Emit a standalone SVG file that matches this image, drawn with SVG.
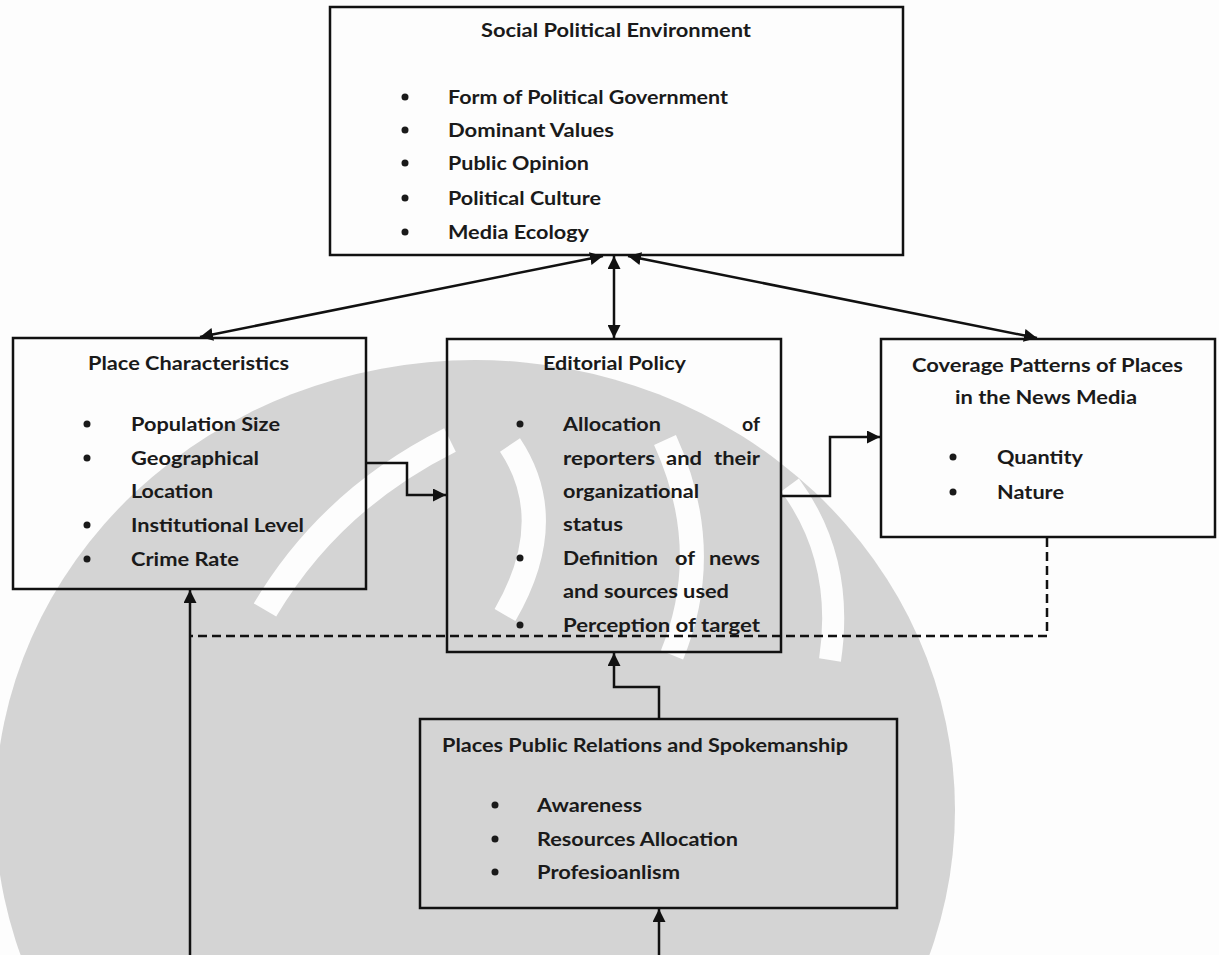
<svg xmlns="http://www.w3.org/2000/svg" width="1219" height="955" viewBox="0 0 1219 955">
  <style>
    .box { fill: none; stroke: #111; stroke-width: 2.5; }
    .t { font-family: Lato, "Liberation Sans", sans-serif; font-weight: 700; font-size: 19px; fill: #1a1a1a; }
    .dot { fill: #1a1a1a; }
    .ln { fill: none; stroke: #111; stroke-width: 2.5; }
    .dash { fill: none; stroke: #111; stroke-width: 2.5; stroke-dasharray: 9 5; }
    .wm { fill: #d4d4d4; }
    .wmw { fill: none; stroke: #fdfdfd; }
  </style>
  <defs>
    <marker id="ah" viewBox="0 0 12 12" refX="12" refY="6" markerWidth="13" markerHeight="13" markerUnits="userSpaceOnUse" orient="auto-start-reverse">
      <path d="M0,0 L12,6 L0,12 z" fill="#111"/>
    </marker>
  </defs>
  <rect width="1219" height="955" fill="#fdfdfd"/>

  <!-- faint emblem in the background -->
  <g id="emblem">
    <ellipse class="wm" cx="475" cy="810" rx="480" ry="450"/>
    <path class="wmw" stroke-width="26" d="M265,610 Q330,500 450,440"/>
    <path class="wmw" stroke-width="24" d="M510,445 Q560,520 505,615"/>
    <path class="wmw" stroke-width="24" d="M665,440 Q715,550 672,655"/>
    <path class="wmw" stroke-width="22" d="M790,485 Q845,560 830,660"/>
  </g>

  <g id="connectors">
    <line class="ln" x1="200" y1="337" x2="603" y2="256" marker-start="url(#ah)" marker-end="url(#ah)"/>
    <line class="ln" x1="628" y1="256" x2="1037" y2="338" marker-start="url(#ah)" marker-end="url(#ah)"/>
    <line class="ln" x1="614" y1="256" x2="614" y2="338" marker-start="url(#ah)" marker-end="url(#ah)"/>
    <path class="ln" d="M366,463 H407 V495 H446" marker-end="url(#ah)"/>
    <path class="ln" d="M781,496 H830 V437 H880" marker-end="url(#ah)"/>
    <path class="ln" d="M659,719 V687 H614 V653" marker-end="url(#ah)"/>
    <path class="ln" d="M659,955 V909" marker-end="url(#ah)"/>
    <path class="ln" d="M190,955 V590" marker-end="url(#ah)"/>
    <path class="dash" d="M1047,538 V636 H190"/>
  </g>

  <g id="social-political-environment">
    <rect class="box" x="330" y="7" width="573" height="248"/>
    <text class="t" x="481" y="37" textLength="270" lengthAdjust="spacingAndGlyphs">Social Political Environment</text>
    <circle class="dot" cx="405" cy="97" r="3.5"/>
    <circle class="dot" cx="405" cy="130" r="3.5"/>
    <circle class="dot" cx="405" cy="163" r="3.5"/>
    <circle class="dot" cx="405" cy="198" r="3.5"/>
    <circle class="dot" cx="405" cy="232" r="3.5"/>
    <text class="t" x="448" y="104" textLength="280" lengthAdjust="spacingAndGlyphs">Form of Political Government</text>
    <text class="t" x="448" y="137" textLength="166" lengthAdjust="spacingAndGlyphs">Dominant Values</text>
    <text class="t" x="448" y="170" textLength="141" lengthAdjust="spacingAndGlyphs">Public Opinion</text>
    <text class="t" x="448" y="205" textLength="153" lengthAdjust="spacingAndGlyphs">Political Culture</text>
    <text class="t" x="448" y="239" textLength="141" lengthAdjust="spacingAndGlyphs">Media Ecology</text>
  </g>

  <g id="place-characteristics">
    <rect class="box" x="13" y="338" width="353" height="251"/>
    <text class="t" x="88" y="370" textLength="201" lengthAdjust="spacingAndGlyphs">Place Characteristics</text>
    <circle class="dot" cx="87" cy="424" r="3.5"/>
    <circle class="dot" cx="87" cy="458" r="3.5"/>
    <circle class="dot" cx="87" cy="525" r="3.5"/>
    <circle class="dot" cx="87" cy="559" r="3.5"/>
    <text class="t" x="131" y="431" textLength="149" lengthAdjust="spacingAndGlyphs">Population Size</text>
    <text class="t" x="131" y="465" textLength="128" lengthAdjust="spacingAndGlyphs">Geographical</text>
    <text class="t" x="131" y="498" textLength="82" lengthAdjust="spacingAndGlyphs">Location</text>
    <text class="t" x="131" y="532" textLength="173" lengthAdjust="spacingAndGlyphs">Institutional Level</text>
    <text class="t" x="131" y="566" textLength="108" lengthAdjust="spacingAndGlyphs">Crime Rate</text>
  </g>

  <g id="editorial-policy">
    <rect class="box" x="447" y="339" width="334" height="313"/>
    <text class="t" x="543" y="370" textLength="143" lengthAdjust="spacingAndGlyphs">Editorial Policy</text>
    <circle class="dot" cx="520" cy="424" r="3.5"/>
    <circle class="dot" cx="520" cy="558" r="3.5"/>
    <circle class="dot" cx="520" cy="625" r="3.5"/>
    <text class="t" x="563" y="431" textLength="98" lengthAdjust="spacingAndGlyphs">Allocation</text>
    <text class="t" x="742" y="431" textLength="18" lengthAdjust="spacingAndGlyphs">of</text>
    <text class="t" x="563" y="465" textLength="92" lengthAdjust="spacingAndGlyphs">reporters</text>
    <text class="t" x="666" y="465" textLength="36" lengthAdjust="spacingAndGlyphs">and</text>
    <text class="t" x="714" y="465" textLength="46" lengthAdjust="spacingAndGlyphs">their</text>
    <text class="t" x="563" y="498" textLength="136" lengthAdjust="spacingAndGlyphs">organizational</text>
    <text class="t" x="563" y="531" textLength="60" lengthAdjust="spacingAndGlyphs">status</text>
    <text class="t" x="563" y="565" textLength="95" lengthAdjust="spacingAndGlyphs">Definition</text>
    <text class="t" x="675" y="565" textLength="20" lengthAdjust="spacingAndGlyphs">of</text>
    <text class="t" x="709" y="565" textLength="51" lengthAdjust="spacingAndGlyphs">news</text>
    <text class="t" x="563" y="598" textLength="166" lengthAdjust="spacingAndGlyphs">and sources used</text>
    <text class="t" x="563" y="632" textLength="197" lengthAdjust="spacingAndGlyphs">Perception of target</text>
  </g>

  <g id="coverage-patterns">
    <rect class="box" x="881" y="339" width="334" height="198"/>
    <text class="t" x="912" y="372" textLength="271" lengthAdjust="spacingAndGlyphs">Coverage Patterns of Places</text>
    <text class="t" x="955" y="404" textLength="182" lengthAdjust="spacingAndGlyphs">in the News Media</text>
    <circle class="dot" cx="953" cy="457" r="3.5"/>
    <circle class="dot" cx="953" cy="492" r="3.5"/>
    <text class="t" x="997" y="464" textLength="86" lengthAdjust="spacingAndGlyphs">Quantity</text>
    <text class="t" x="997" y="499" textLength="67" lengthAdjust="spacingAndGlyphs">Nature</text>
  </g>

  <g id="public-relations">
    <rect class="box" x="420" y="719" width="477" height="189"/>
    <text class="t" x="442" y="752" textLength="406" lengthAdjust="spacingAndGlyphs">Places Public Relations and Spokemanship</text>
    <circle class="dot" cx="495" cy="805" r="3.5"/>
    <circle class="dot" cx="495" cy="839" r="3.5"/>
    <circle class="dot" cx="495" cy="872" r="3.5"/>
    <text class="t" x="537" y="812" textLength="105" lengthAdjust="spacingAndGlyphs">Awareness</text>
    <text class="t" x="537" y="846" textLength="201" lengthAdjust="spacingAndGlyphs">Resources Allocation</text>
    <text class="t" x="537" y="879" textLength="143" lengthAdjust="spacingAndGlyphs">Profesioanlism</text>
  </g>
</svg>
